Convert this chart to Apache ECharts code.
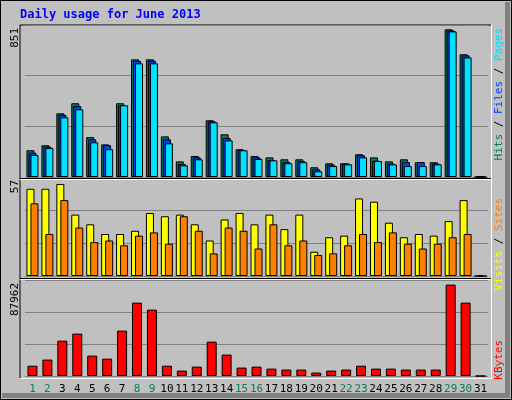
<!DOCTYPE html><html><head><meta charset="utf-8">
<script src="https://cdn.jsdelivr.net/npm/echarts@6/dist/echarts.min.js"></script>
<style>html,body{margin:0;padding:0;background:#c0c0c0}#c{width:512px;height:400px}</style></head><body><div id="c"></div><script>
const days=['1','2','3','4','5','6','7','8','9','10','11','12','13','14','15','16','17','18','19','20','21','22','23','24','25','26','27','28','29','30','31'];
const weekend=[1,2,8,9,15,16,22,23,29,30];
const hits=[154,183,367,425,230,188,425,678,678,234,90,121,327,246,160,121,113,102,102,56,79,79,131,113,90,102,85,85,851,707,0];
const files=[140,175,359,409,217,183,413,670,670,217,75,113,321,225,156,113,98,86,92,44,71,77,125,94,77,86,86,77,845,701,0];
const pages=[127,167,344,390,200,160,413,655,655,194,67,102,315,211,154,104,96,79,85,33,63,73,113,92,73,63,63,73,839,689,0];
const visits=[54,54,57,38,32,26,26,28,39,37,38,32,22,35,39,32,38,29,38,15,24,25,48,46,33,24,26,25,34,47,0];
const sites=[45,26,47,30,21,22,19,25,27,20,37,28,14,30,28,17,32,19,22,13,14,19,26,21,27,20,17,20,24,26,0];
const kbytes=[9900,15800,34000,40800,19600,16700,43700,70600,63900,9900,5200,9000,33100,20600,8100,9000,7100,6200,6200,3300,5200,6200,9900,7100,7100,6200,6200,6200,87962,70600,0];
const maxLabels=['851','57','87962'];
const font='DejaVu Sans Mono';
const ch=echarts.init(document.getElementById('c'));
const bs=(c)=>({color:c,borderColor:'#000',borderWidth:1});
const grids=[{left:25,right:24,top:25,height:152},{left:25,right:24,top:177,height:99},{left:25,right:24,top:280,height:96}];
const xa=(i)=>({type:'category',gridIndex:i,data:days,axisLine:{show:false},axisTick:{show:false},
 axisLabel:{show:i===2,margin:8,fontFamily:font,fontSize:11,interval:0,
  formatter:(v)=>weekend.includes(+v)?'{w|'+v+'}':'{n|'+v+'}',rich:{w:{color:'#00805c',fontFamily:font,fontSize:11},n:{color:'#000',fontFamily:font,fontSize:11}}}});
const ya=(i,max)=>({type:'value',gridIndex:i,min:0,max:max,interval:max/3,axisLabel:{show:false},axisLine:{show:false},axisTick:{show:false},splitLine:{lineStyle:{color:'#808080',width:1}}});
const vt=(x,y,t,color)=>({type:'text',x:x,y:y,rotation:Math.PI/2,style:{text:t,fill:color,font:'11px '+font,textAlign:'right',textVerticalAlign:'middle'}});
ch.setOption({animation:false,backgroundColor:'#c0c0c0',grid:grids,
 xAxis:[xa(0),xa(1),xa(2)],
 yAxis:[ya(0,876),ya(1,61.3),ya(2,92400)],
 series:[
  {type:'bar',xAxisIndex:0,yAxisIndex:0,data:hits,barWidth:8,barGap:'-75%',itemStyle:bs('#00805c')},
  {type:'bar',xAxisIndex:0,yAxisIndex:0,data:files,barWidth:8,barGap:'-75%',itemStyle:bs('#0040ff')},
  {type:'bar',xAxisIndex:0,yAxisIndex:0,data:pages,barWidth:8,barGap:'-75%',itemStyle:bs('#00e0ff')},
  {type:'bar',xAxisIndex:1,yAxisIndex:1,data:visits,barWidth:8,barGap:'-50%',itemStyle:bs('#ffff00')},
  {type:'bar',xAxisIndex:1,yAxisIndex:1,data:sites,barWidth:8,barGap:'-50%',itemStyle:bs('#ff8000')},
  {type:'bar',xAxisIndex:2,yAxisIndex:2,data:kbytes,barWidth:10,itemStyle:bs('#ff0000')}
 ],
 graphic:[
  {type:'rect',shape:{x:0.5,y:0.5,width:511,height:399},style:{fill:'none',stroke:'#000',lineWidth:1},silent:true},
  {type:'rect',shape:{x:505,y:2,width:5,height:396},style:{fill:'#808080'},silent:true},
  {type:'rect',shape:{x:2,y:393,width:508,height:5},style:{fill:'#808080'},silent:true},
  {type:'polyline',shape:{points:[[20,378],[20,25],[491,25]]},style:{stroke:'#000',lineWidth:1,fill:'none'}},
  {type:'polyline',shape:{points:[[20.5,378.5],[491.5,378.5],[491.5,25]]},style:{stroke:'#fff',lineWidth:1,fill:'none'}},
  {type:'line',shape:{x1:20,y1:178.5,x2:491,y2:178.5},style:{stroke:'#000',lineWidth:1}},
  {type:'line',shape:{x1:20,y1:179.5,x2:491,y2:179.5},style:{stroke:'#fff',lineWidth:1}},
  {type:'line',shape:{x1:20,y1:278.5,x2:491,y2:278.5},style:{stroke:'#000',lineWidth:1}},
  {type:'line',shape:{x1:20,y1:279.5,x2:491,y2:279.5},style:{stroke:'#fff',lineWidth:1}},
  {type:'text',x:20,y:9,style:{text:'Daily usage for June 2013',fill:'#0000ff',font:'bold 12px '+font}},
  {type:'text',x:15,y:28,rotation:Math.PI/2,style:{text:maxLabels[0],fill:'#000',font:'11px '+font,textAlign:'right',textVerticalAlign:'middle'}},
  {type:'text',x:15,y:180,rotation:Math.PI/2,style:{text:maxLabels[1],fill:'#000',font:'11px '+font,textAlign:'right',textVerticalAlign:'middle'}},
  {type:'text',x:15,y:283,rotation:Math.PI/2,style:{text:maxLabels[2],fill:'#000',font:'11px '+font,textAlign:'right',textVerticalAlign:'middle'}},
  {type:'text',x:499,y:28,rotation:Math.PI/2,style:{text:'{h|Hits}{s| / }{f|Files}{s| / }{p|Pages}',textAlign:'right',textVerticalAlign:'middle',font:'11px '+font,
    rich:{h:{fill:'#00805c',font:'11px '+font},f:{fill:'#0040ff',font:'11px '+font},p:{fill:'#00e0ff',font:'11px '+font},s:{fill:'#000',font:'11px '+font}}}},
  {type:'text',x:499,y:198,rotation:Math.PI/2,style:{text:'{v|Visits}{s| / }{t|Sites}',textAlign:'right',textVerticalAlign:'middle',font:'11px '+font,
    rich:{v:{fill:'#ffff00',font:'11px '+font},t:{fill:'#ff8000',font:'11px '+font},s:{fill:'#000',font:'11px '+font}}}},
  {type:'text',x:499,y:340,rotation:Math.PI/2,style:{text:'KBytes',fill:'#ff0000',textAlign:'right',textVerticalAlign:'middle',font:'11px '+font}}
 ]});
</script></body></html>
